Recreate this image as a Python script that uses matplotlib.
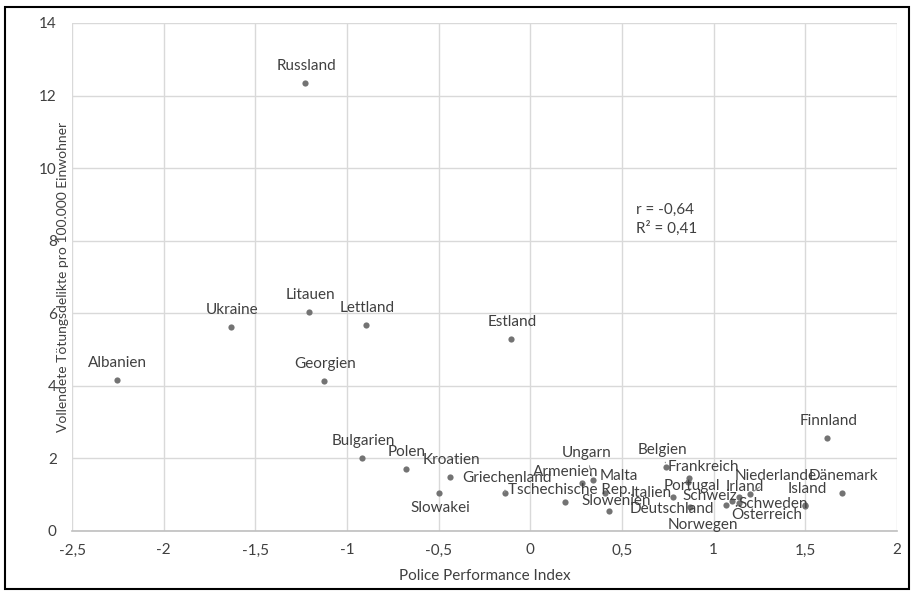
import matplotlib.pyplot as plt
from matplotlib.patches import Rectangle

plt.rcParams['font.family'] = ['Lato', 'DejaVu Sans']

# Länder, Police Performance Index und Tötungsdelikte je 100.000 Einwohner
laender = ["Albanien", "Ukraine", "Litauen", "Lettland", "Russland", "Georgien",
           "Estland", "Bulgarien", "Polen", "Kroatien", "Slowakei", "Griechenland",
           "Tschechische Rep.", "Armenien", "Ungarn", "Malta", "Slowenien", "Italien",
           "Belgien", "Frankreich", "Portugal", "Deutschland", "Norwegen", "Schweiz",
           "Irland", "Niederlande", "Österreich", "Schweden", "Island", "Dänemark",
           "Finnland"]
ppi = [-2.255, -1.633, -1.207, -0.896, -1.227, -1.126,
       -0.105, -0.918, -0.68, -0.436, -0.498, -0.14,
       0.19, 0.28, 0.34, 0.405, 0.43, 0.78,
       0.742, 0.864, 0.862, 0.87, 1.07, 1.10,
       1.14, 1.20, 1.14, 1.50, 1.50, 1.70,
       1.62]
toetung = [4.16, 5.63, 6.03, 5.67, 12.36, 4.13,
           5.28, 2.0, 1.70, 1.49, 1.06, 1.06,
           0.81, 1.33, 1.40, 1.04, 0.54, 0.95,
           1.77, 1.47, 1.36, 0.67, 0.72, 0.82,
           0.95, 1.03, 0.77, 0.70, 0.72, 1.04,
           2.55]

r_wert = "-0,64"
r2_wert = "0,41"

x_ticks = [-2.5, -2, -1.5, -1, -0.5, 0, 0.5, 1, 1.5, 2]
y_ticks = [0, 2, 4, 6, 8, 10, 12, 14]

# Versatz der Beschriftungen in Pixeln (dx, dy); Standard: über dem Punkt
versatz = {
    "Slowakei": (1, -15), "Griechenland": (2, 15), "Tschechische Rep.": (4, 12),
    "Armenien": (-16, 11), "Ungarn": (-6, 27), "Malta": (14, 17),
    "Slowenien": (7, 10), "Italien": (-22, 4), "Belgien": (-4, 17),
    "Frankreich": (15, 11), "Portugal": (4, -4), "Deutschland": (-18, -2),
    "Norwegen": (-24, -20), "Schweiz": (-22, 5), "Irland": (5, 10),
    "Niederlande": (25, 18), "Österreich": (27, -12), "Schweden": (-32, 2),
    "Island": (2, 16), "Dänemark": (1, 17),
}
mit_linie = ["Ungarn", "Belgien", "Niederlande", "Griechenland"]

text_farbe = '#404040'
fs = 11

fig = plt.figure(figsize=(9.12, 5.91), dpi=100)
ax = fig.add_axes([72 / 912, 60 / 591, 825 / 912, 508 / 591])

ax.scatter(ppi, toetung, s=20, color='#737373', zorder=3, linewidths=0)

for name, x, y in zip(laender, ppi, toetung):
    dx, dy = versatz.get(name, (1, 17))
    arrow = None
    if name in mit_linie:
        arrow = dict(arrowstyle='-', color='#8c8c8c', lw=0.8, shrinkA=2, shrinkB=3)
    ax.annotate(name, (x, y), xytext=(dx, dy), textcoords='offset pixels',
                ha='center', va='center', fontsize=fs, color=text_farbe,
                arrowprops=arrow, zorder=4)

ax.text(0.575, 8.85, "r = " + r_wert, fontsize=fs, color=text_farbe, va='center')
ax.text(0.575, 8.35, "R² = " + r2_wert, fontsize=fs, color=text_farbe, va='center')

ax.set_xlim(-2.5, 2)
ax.set_ylim(0, 14)
ax.set_xticks(x_ticks)
ax.set_yticks(y_ticks)
ax.set_xticklabels([f"{t:g}".replace('.', ',') for t in x_ticks])
ax.set_yticklabels([str(t) for t in y_ticks])
ax.tick_params(length=0, labelsize=fs, labelcolor=text_farbe, pad=9)
ax.tick_params(axis='y', pad=11)

ax.grid(color='#d9d9d9', lw=1)
ax.set_axisbelow(True)
for s in ['top', 'right', 'left']:
    ax.spines[s].set_visible(False)
ax.spines['bottom'].set_color('#bfbfbf')
ax.spines['bottom'].set_linewidth(1.2)

ax.set_xlabel("Police Performance Index", fontsize=fs, color=text_farbe, labelpad=8)
ax.set_ylabel("Vollendete Tötungsdelikte pro 100.000 Einwohner", fontsize=10,
              color=text_farbe)
ax.yaxis.set_label_coords(-0.004, 0.5)

# Rahmen um die ganze Grafik
fig.patches.append(Rectangle((5 / 912, 2 / 591), 904 / 912, 582 / 591,
                             transform=fig.transFigure, fill=False,
                             edgecolor='black', lw=1.5))

fig.savefig("out.png", dpi=100)
